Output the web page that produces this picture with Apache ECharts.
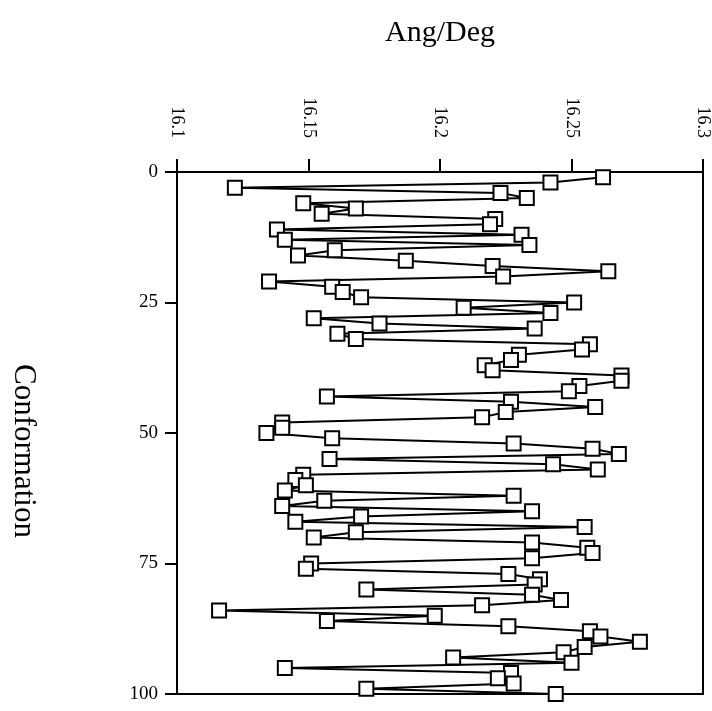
<!DOCTYPE html>
<html>
<head>
<meta charset="utf-8">
<script src="https://cdn.jsdelivr.net/npm/echarts@6/dist/echarts.min.js"></script>
<style>
  html, body { margin: 0; padding: 0; background: #fff; }
  #chart { width: 712px; height: 711px; }
</style>
</head>
<body>
<div id="chart"></div>
<script>
// conformation number (y) and angle per degree (x)
const conformation = [
  1, 2, 3, 4, 5, 6, 7, 8, 9, 10, 11, 12, 13, 14, 15, 16, 17, 18, 19, 20,
  21, 22, 23, 24, 25, 26, 27, 28, 29, 30, 31, 32, 33, 34, 35, 36, 37, 38, 39, 40,
  41, 42, 43, 44, 45, 46, 47, 48, 49, 50, 51, 52, 53, 54, 55, 56, 57, 58, 59, 60,
  61, 62, 63, 64, 65, 66, 67, 68, 69, 70, 71, 72, 73, 74, 75, 76, 77, 78, 79, 80,
  81, 82, 83, 84, 85, 86, 87, 88, 89, 90, 91, 92, 93, 94, 95, 96, 97, 98, 99, 100
]
const angDeg = [
  16.262, 16.242, 16.122, 16.223, 16.233, 16.148, 16.168, 16.155, 16.221, 16.219,
  16.138, 16.231, 16.141, 16.234, 16.160, 16.146, 16.187, 16.220, 16.264, 16.224,
  16.135, 16.159, 16.163, 16.170, 16.251, 16.209, 16.242, 16.152, 16.177, 16.236,
  16.161, 16.168, 16.257, 16.254, 16.230, 16.227, 16.217, 16.220, 16.269, 16.269,
  16.253, 16.249, 16.157, 16.227, 16.259, 16.225, 16.216, 16.140, 16.140, 16.134,
  16.159, 16.228, 16.258, 16.268, 16.158, 16.243, 16.260, 16.148, 16.145, 16.149,
  16.141, 16.228, 16.156, 16.140, 16.235, 16.170, 16.145, 16.255, 16.168, 16.152,
  16.235, 16.256, 16.258, 16.235, 16.151, 16.149, 16.226, 16.238, 16.236, 16.172,
  16.235, 16.246, 16.216, 16.116, 16.198, 16.157, 16.226, 16.257, 16.261, 16.276,
  16.255, 16.247, 16.205, 16.250, 16.141, 16.227, 16.222, 16.228, 16.172, 16.244
]
const xTickLabels = ['16.1', '16.15', '16.2', '16.25', '16.3']
const yTickLabels = ['0', '25', '50', '75', '100']

const font = 'Liberation Serif, Times New Roman, serif'

const chart = echarts.init(document.getElementById('chart'), null, { renderer: 'canvas' })

const points = angDeg.map((value, index) => [value, conformation[index]])

const option = {
  backgroundColor: '#fff',
  animation: false,
  grid: {
    left: 176,
    right: 6,
    top: 172,
    bottom: 17,
    show: true,
    borderColor: '#000',
    borderWidth: 2,
    backgroundColor: 'transparent'
  },
  xAxis: {
    type: 'value',
    position: 'top',
    min: 16.1,
    max: 16.3,
    interval: 0.05,
    name: 'Ang/Deg',
    nameLocation: 'middle',
    nameGap: 124,
    nameTextStyle: { fontFamily: font, fontSize: 30, color: '#000' },
    axisLine: { show: true, lineStyle: { color: '#000', width: 2 } },
    axisTick: { show: true, length: 13, lineStyle: { color: '#000', width: 2 } },
    axisLabel: {
      rotate: -90,
      margin: 34,
      fontFamily: font,
      fontSize: 18,
      color: '#000',
      formatter(value) {
        const idx = Math.round((value - 16.1) / 0.05)
        return xTickLabels[idx] ?? ''
      }
    },
    splitLine: { show: false }
  },
  yAxis: {
    type: 'value',
    inverse: true,
    min: 0,
    max: 100,
    interval: 25,
    name: 'Conformation',
    nameLocation: 'middle',
    nameGap: 138,
    nameRotate: -90,
    nameTextStyle: { fontFamily: font, fontSize: 31, color: '#000', padding: [0, 0, 0, 36] },
    axisLine: { show: true, lineStyle: { color: '#000', width: 2 } },
    axisTick: { show: true, length: 12, lineStyle: { color: '#000', width: 2 } },
    axisLabel: {
      margin: 19,
      fontFamily: font,
      fontSize: 19,
      color: '#000',
      formatter(value) {
        return yTickLabels[Math.round(value / 25)] ?? ''
      }
    },
    splitLine: { show: false }
  },
  series: [
    {
      type: 'line',
      data: points,
      symbol: 'rect',
      symbolSize: 14,
      showAllSymbol: true,
      lineStyle: { color: '#000', width: 2 },
      itemStyle: { color: '#fff', borderColor: '#000', borderWidth: 2 }
    }
  ]
}

chart.setOption(option)
</script>
</body>
</html>
